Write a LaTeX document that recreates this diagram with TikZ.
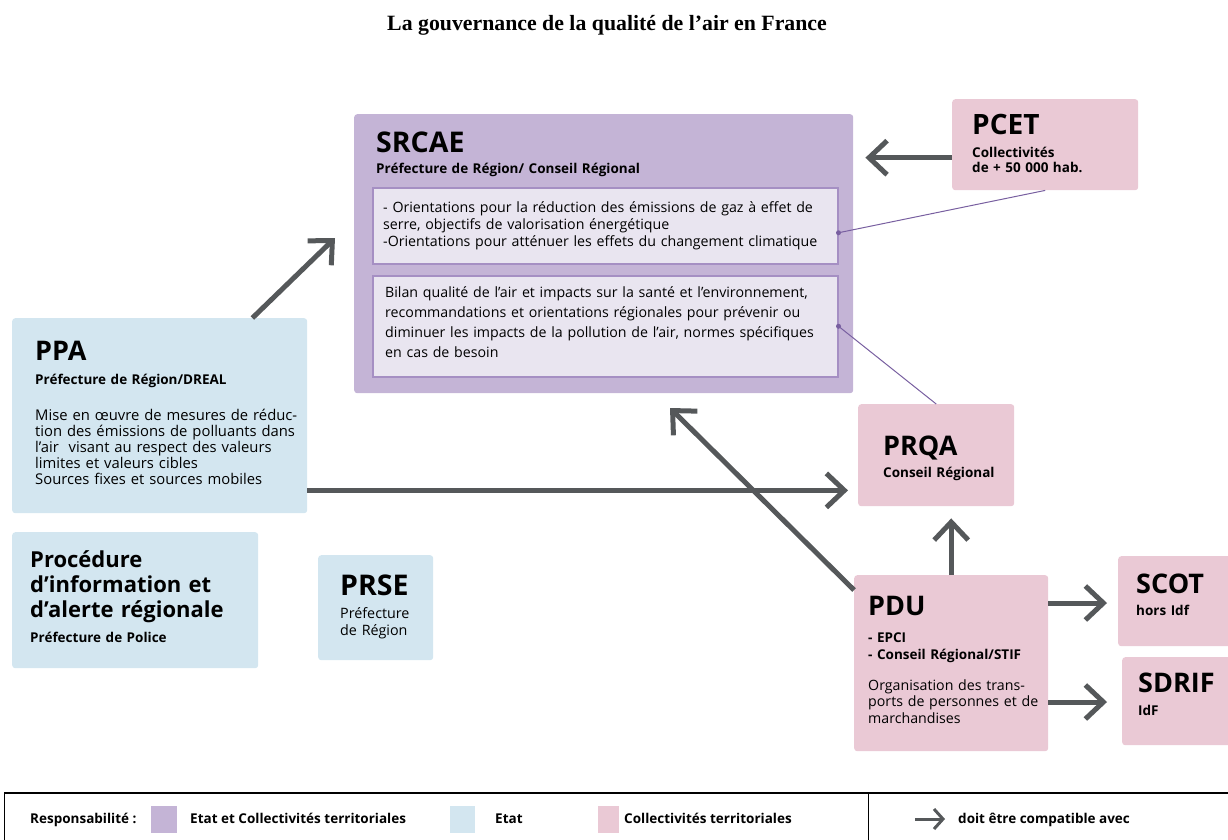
\documentclass[tikz,border=0pt]{standalone}
\usepackage{xcolor}
\usepackage{fontspec}
\setmainfont{Open Sans}
\newfontfamily\titlefont[Ligatures=TeX]{Liberation Serif}
\usepackage{tikz}
\usetikzlibrary{arrows.meta}
\definecolor{srcaepurple}{RGB}{196,180,214}
\definecolor{innerlilac}{RGB}{233,229,240}
\definecolor{linelilac}{RGB}{165,143,195}
\definecolor{etatblue}{RGB}{211,230,240}
\definecolor{collpink}{RGB}{234,201,213}
\definecolor{arrowgray}{RGB}{85,88,90}
\definecolor{dotpurple}{RGB}{120,95,160}

\begin{document}
\begin{tikzpicture}[x=1pt,y=-1pt]
			\tikzstyle{box}=[rectangle, rounded corners=3pt, anchor=north west, inner sep=0pt]
			\tikzstyle{mixed}=[box, fill=srcaepurple]
			\tikzstyle{lilac}=[rectangle, anchor=north west, inner sep=0pt, fill=innerlilac, draw=linelilac, line width=1.5pt]
			\tikzstyle{etat}=[box, fill=etatblue]
			\tikzstyle{coll}=[box, fill=collpink]
			\tikzstyle{acro}=[anchor=base west, inner sep=0pt, font=\fontsize{27}{27}\selectfont\bfseries]
			\tikzstyle{who}=[anchor=base west, inner sep=0pt, text width=260pt, align=left, font=\fontsize{13.5}{15.5}\selectfont\bfseries]
			\tikzstyle{body}=[anchor=base west, inner sep=0pt, text width=520pt, align=left, font=\fontsize{14.2}{17}\selectfont]
			\tikzstyle{keytext}=[anchor=base west, inner sep=0pt, font=\fontsize{13.5}{14}\selectfont\bfseries]
			\tikzstyle{swatch}=[rectangle, anchor=north west, inner sep=0pt, minimum height=27pt]
			\tikzset{edge/.style = {draw=arrowgray, line width=5pt, -{Straight Barb[length=18pt,width=34pt]}}}
			\tikzset{link/.style = {draw=dotpurple, line width=1pt}}
			
			\useasboundingbox (0,0) rectangle (1228,839);
			
			\node[anchor=base, font=\titlefont\fontsize{21.8}{22}\selectfont\bfseries] (title) at (607,30) {La gouvernance de la qualité de l'air en France};
			
			\node[mixed, minimum width=499, minimum height=279] (srcae) at (354,114) {};
			\node[lilac, minimum width=465, minimum height=76] (srcaeone) at (372,187) {};
			\node[lilac, minimum width=465, minimum height=101] (srcaetwo) at (372,275) {};
			\node[acro, font=\fontsize{28.5}{28}\selectfont\bfseries] (srcaet) at (376,152) {SRCAE};
			\node[who, text width=400pt] (srcaew) at (376,173) {Préfecture de Région/ Conseil Régional};
			\node[body] (srcaeb) at (383,212) {- Orientations pour la réduction des émissions de gaz à effet de\\serre, objectifs de valorisation énergétique\\-Orientations pour atténuer les effets du changement climatique};
			\node[body, font=\fontsize{14.2}{20}\selectfont] (srcaec) at (385,297) {Bilan qualité de l'air et impacts sur la santé et l'environnement,\\recommandations et orientations régionales pour prévenir ou\\diminuer les impacts de la pollution de l'air, normes spécifiques\\en cas de besoin};
			
			\node[coll, minimum width=186, minimum height=91] (pcet) at (952,99) {};
			\node[acro, font=\fontsize{28}{28}\selectfont\bfseries] (pcett) at (972,134) {PCET};
			\node[who] (pcetw) at (972,157) {Collectivités\\de + 50 000 hab.};
			
			\node[etat, minimum width=295, minimum height=195] (ppa) at (12,318) {};
			\node[acro] (ppat) at (35,360) {PPA};
			\node[who] (ppaw) at (35,384) {Préfecture de Région/DREAL};
			\node[body, font=\fontsize{14.8}{16}\selectfont] (ppab) at (35,420) {Mise en œuvre de mesures de réduc-\\tion des émissions de polluants dans\\l'air\ \ visant au respect des valeurs\\limites et valeurs cibles\\Sources fixes et sources mobiles};
			
			\node[etat, minimum width=246, minimum height=136] (alerte) at (12,532) {};
			\node[acro, text width=240pt, align=left, font=\fontsize{22}{25}\selectfont\bfseries] (alertet) at (30,567) {Procédure\\d'information et\\d'alerte régionale};
			\node[who] (alertew) at (30,642) {Préfecture de Police};
			
			\node[etat, minimum width=115, minimum height=105] (prse) at (318,555) {};
			\node[acro, font=\fontsize{28.5}{28}\selectfont\bfseries] (prset) at (340,595) {PRSE};
			\node[who, font=\fontsize{14.3}{17}\selectfont] (prsew) at (340,618) {Préfecture\\de Région};
			
			\node[coll, minimum width=156, minimum height=102] (prqa) at (858,404) {};
			\node[acro] (prqat) at (883,455) {PRQA};
			\node[who] (prqaw) at (883,477) {Conseil Régional};
			
			\node[coll, minimum width=194, minimum height=176] (pdu) at (854,575) {};
			\node[acro] (pdut) at (868,615) {PDU};
			\node[who, font=\fontsize{13.5}{17}\selectfont\bfseries] (pduw) at (868,642) {- EPCI\\- Conseil Régional/STIF};
			\node[body, font=\fontsize{14.2}{16.5}\selectfont] (pdub) at (868,690) {Organisation des trans-\\ports de personnes et de\\marchandises};
			
			\node[coll, minimum width=125, minimum height=90] (scot) at (1118,556) {};
			\node[acro] (scott) at (1136,593) {SCOT};
			\node[who] (scotw) at (1136,615) {hors Idf};
			
			\node[coll, minimum width=120, minimum height=88] (sdrif) at (1122,657) {};
			\node[acro] (sdrift) at (1138,692) {SDRIF};
			\node[who] (sdrifw) at (1138,715) {IdF};
			
			\coordinate (ppatip) at (335,238);
			\coordinate (pdutip) at (670,408);
			
			\draw[edge, shorten >=12pt] ([yshift=-13pt]pcet.west) -- ([yshift=-13pt]pcet.west -| srcae.east);
			\draw[edge] ([xshift=-55pt]ppa.north east) -- (ppatip);
			\draw[edge, shorten >=10pt] ([yshift=23pt]ppa.south east) -- ([yshift=23pt]ppa.south east -| prqa.west);
			\draw[edge] ([yshift=-15pt]pdu.north west) -- (pdutip);
			\draw[edge, shorten >=12pt] (pdu.north) -- (pdu.north |- prqa.south);
			\draw[edge, shorten >=11pt] ([yshift=-28pt]pdu.north east) -- ([yshift=-28pt]pdu.north east -| scot.west);
			\draw[edge, shorten >=15pt] ([yshift=-127pt]pdu.north east) -- ([yshift=-127pt]pdu.north east -| sdrif.west);
			
			\draw[link] (pcet.south) -- ([yshift=-7pt]srcaeone.east);
			\fill[dotpurple] ([yshift=-7pt]srcaeone.east) circle (2.5pt);
			\draw[link] (prqa.north) -- (srcaetwo.east);
			\fill[dotpurple] (srcaetwo.east) circle (2.5pt);
			
			\draw[line width=1pt] (4,850) -- (4,793) -- (1240,793);
			\draw[line width=2pt] (4,793) -- (1240,793);
			\draw[line width=1pt] (868,793) -- (868,850);
			\node[keytext] (resp) at (30,823) {Responsabilité :};
			\node[swatch, fill=srcaepurple, minimum width=26] (keymixed) at (151,806) {};
			\node[keytext] (keymixedt) at (190,823) {Etat et Collectivités territoriales};
			\node[swatch, fill=etatblue, minimum width=25] (keyetat) at (450,806) {};
			\node[keytext] (keyetatt) at (495,823) {Etat};
			\node[swatch, fill=collpink, minimum width=21] (keycoll) at (598,806) {};
			\node[keytext] (keycollt) at (624,823) {Collectivités territoriales};
			\coordinate (keyfrom) at (915,819);
			\coordinate (keyto) at (945,819);
			\draw[draw=arrowgray, line width=3pt, -{Straight Barb[length=9pt,width=20pt]}] (keyfrom) -- (keyto);
			\node[keytext] (keyarrowt) at (958,823) {doit être compatible avec};
\end{tikzpicture}
\end{document}
